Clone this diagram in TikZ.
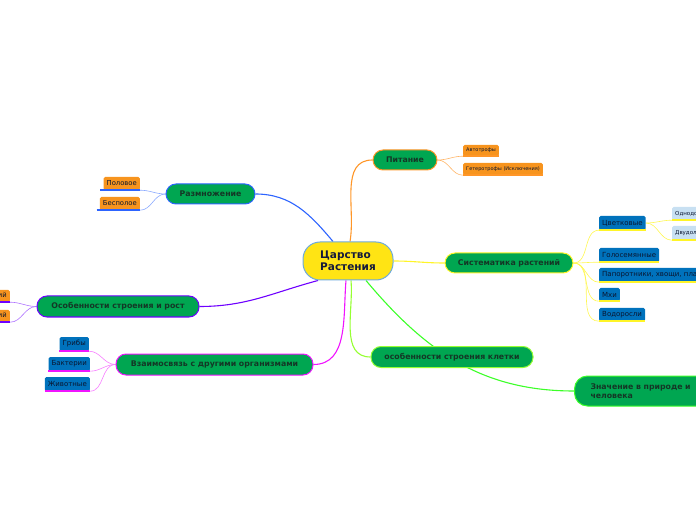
\documentclass[tikz,border=0pt]{standalone}
\usepackage{fontspec}
\setmainfont{DejaVu Sans}
\definecolor{gfill}{RGB}{0,166,81}
\definecolor{gtext}{RGB}{20,55,38}
\definecolor{bfill}{RGB}{0,114,188}
\definecolor{btext}{RGB}{10,22,48}
\definecolor{ofill}{RGB}{247,148,30}
\definecolor{lbfill}{RGB}{200,224,242}
\definecolor{cfill}{RGB}{255,228,20}
\definecolor{cborder}{RGB}{110,170,220}
\definecolor{ctext}{RGB}{20,25,60}
\definecolor{eblue}{RGB}{45,100,255}
\definecolor{eorange}{RGB}{255,150,40}
\definecolor{eyellow}{RGB}{255,245,40}
\definecolor{egreen}{RGB}{60,255,40}
\definecolor{elgreen}{RGB}{150,255,50}
\definecolor{emag}{RGB}{240,20,255}
\definecolor{epurp}{RGB}{110,0,255}
\pgfdeclarelayer{bg}
\pgfsetlayers{bg,main}
\tikzset{
  mainnode/.style={draw=#1, line width=1pt, fill=gfill, rounded corners=10pt, minimum height=20pt, inner xsep=10pt, inner ysep=0pt, text=gtext, font=\bfseries\fontsize{7.8}{9.3}\selectfont},
  leafbox/.style={fill=#1, rounded corners=1.5pt, inner xsep=3pt, inner ysep=0pt, minimum height=13pt, text=btext, font=\fontsize{6.8}{8}\selectfont},
  mainedge/.style={draw=#1, line width=1.1pt},
  leafedge/.style={draw=#1, line width=0.6pt},
  uline/.style={draw=#1, line width=1.6pt},
}
\begin{document}
\begin{tikzpicture}[x=1pt,y=1pt]
\useasboundingbox (0,0) rectangle (696,520);
\clip (0,0) rectangle (696,520);
% central
\node[draw=cborder, line width=1pt, fill=cfill, rounded corners=17pt, minimum width=90pt, minimum height=38pt, inner sep=0pt, align=left, text=ctext, font=\bfseries\fontsize{10.5}{12}\selectfont] (cen) at (348,259) {Царство\\Растения};
% main nodes
\node[mainnode=eorange, minimum width=64pt] (pit) at (405,360) {Питание};
\node[mainnode=eyellow, minimum width=128pt] (sys) at (509,257) {Систематика растений};
\node[mainnode=elgreen, minimum width=162pt, minimum height=21pt] (kl) at (452,163) {особенности строения клетки};
\node[mainnode=egreen, anchor=west, text width=170pt, align=left, inner xsep=16pt, minimum height=30pt, rounded corners=13pt] (zn) at (574,129) {Значение в природе и\\человека};
\node[mainnode=eblue, minimum width=89pt] (raz) at (210.5,326) {Размножение};
\node[mainnode=epurp, minimum width=162pt, minimum height=21pt] (os) at (118,213.5) {Особенности строения и рост};
\node[mainnode=emag, minimum width=197pt, minimum height=21pt] (vz) at (214.5,155.5) {Взаимосвязь с другими организмами};
% leaves
\node[leafbox=ofill, anchor=west, minimum height=11pt, font=\fontsize{5}{6}\selectfont] (avt) at (463,369.5) {Автотрофы};
\node[leafbox=ofill, anchor=west, minimum height=12pt, font=\fontsize{5}{6}\selectfont] (get) at (463,351) {Гетеротрофы (Исключения)};
\node[leafbox=ofill, anchor=east] (pol) at (140,336.5) {Половое};
\node[leafbox=ofill, anchor=east] (bes) at (140,316.5) {Бесполое};
\node[leafbox=ofill, anchor=east, minimum height=12pt] (niz) at (10,224) {Низших растений};
\node[leafbox=ofill, anchor=east, minimum height=12pt] (vys) at (10,204) {Высших растений};
\node[leafbox=bfill, anchor=west, minimum height=14pt, font=\fontsize{7}{8}\selectfont] (cvet) at (599,297) {Цветковые};
\node[leafbox=lbfill, anchor=west, minimum height=13pt, font=\fontsize{5.5}{7}\selectfont] (odn) at (672,306.5) {Однодольные};
\node[leafbox=lbfill, anchor=west, minimum height=14pt, font=\fontsize{5.5}{7}\selectfont] (dvu) at (672,287) {Двудольные};
\node[leafbox=bfill, anchor=west, minimum height=14pt, font=\fontsize{7}{8}\selectfont] (gol) at (599,265) {Голосемянные};
\node[leafbox=bfill, anchor=west, minimum height=14pt, font=\fontsize{7}{8}\selectfont] (pap) at (599,245) {Папоротники, хвощи, плауны};
\node[leafbox=bfill, anchor=west, minimum height=13pt, font=\fontsize{7}{8}\selectfont] (mhi) at (599,225.5) {Мхи};
\node[leafbox=bfill, anchor=west, minimum height=13pt, font=\fontsize{7}{8}\selectfont] (vod) at (599,205.5) {Водоросли};
\node[leafbox=bfill, anchor=east, minimum height=14pt, font=\fontsize{7}{8}\selectfont] (gri) at (89,176) {Грибы};
\node[leafbox=bfill, anchor=east, minimum height=14pt, font=\fontsize{7}{8}\selectfont] (bak) at (90,156) {Бактерии};
\node[leafbox=bfill, anchor=east, minimum height=14pt, font=\fontsize{7}{8}\selectfont] (ziv) at (90,136) {Животные};
% underlines
\foreach \c in {avt,get}{\draw[uline=eorange] (\c.south west) -- (\c.south east);}
\foreach \c in {pol,bes}{\draw[uline=eblue] ([xshift=-3pt]\c.south west) -- (\c.south east);}
\foreach \c in {niz,vys}{\draw[uline=epurp] (\c.south west) -- (\c.south east);}
\foreach \c in {gri,bak,ziv}{\draw[uline=emag] (\c.south west) -- (\c.south east);}
\foreach \c in {cvet,gol,pap,mhi,vod,odn,dvu}{\draw[uline=eyellow] (\c.south west) -- (\c.south east);}
\begin{pgfonlayer}{bg}
% main edges
\draw[mainedge=eblue] ([xshift=-15pt]cen.north) to[out=130,in=0] (raz.east);
\draw[mainedge=eorange] ([xshift=2pt]cen.north) to[out=80,in=180] (pit.west);
\draw[mainedge=eyellow] (cen.east) to[out=0,in=180] (sys.west);
\draw[mainedge=egreen] ([xshift=18pt]cen.south) to[out=-50,in=180] (zn.west);
\draw[mainedge=elgreen] ([xshift=3pt]cen.south) to[out=-85,in=180] (kl.west);
\draw[mainedge=emag] ([xshift=-2pt]cen.south) to[out=-95,in=0] (vz.east);
\draw[mainedge=epurp] ([xshift=-30pt]cen.south) to[out=-165,in=0] (os.east);
% leaf edges
\foreach \c in {avt,get}{\draw[leafedge=eorange!70] (pit.east) to[out=0,in=180] (\c.south west);}
\foreach \c in {pol,bes}{\draw[leafedge=eblue!55] (raz.west) to[out=180,in=0] (\c.south east);}
\foreach \c in {niz,vys}{\draw[leafedge=epurp!55] (os.west) to[out=180,in=0] (\c.south east);}
\foreach \c in {gri,bak,ziv}{\draw[leafedge=emag!55] (vz.west) to[out=180,in=0] (\c.south east);}
\foreach \c in {cvet,gol,pap,mhi,vod}{\draw[leafedge=eyellow!80] (sys.east) to[out=0,in=180] (\c.south west);}
\foreach \c in {odn,dvu}{\draw[leafedge=eyellow!80] (cvet.east) to[out=0,in=180] (\c.south west);}
\end{pgfonlayer}
\end{tikzpicture}
\end{document}
